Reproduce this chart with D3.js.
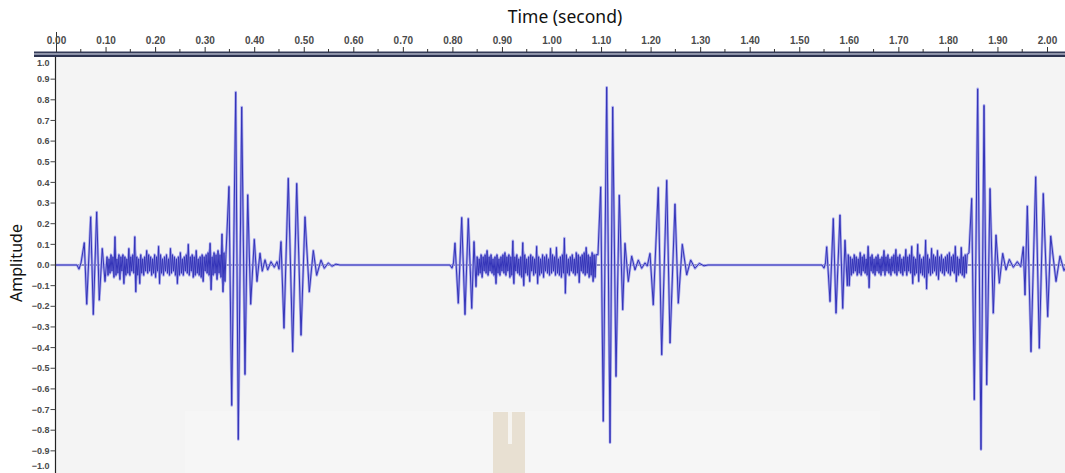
<!DOCTYPE html>
<html>
<head>
<meta charset="utf-8">
<script src="https://cdn.jsdelivr.net/npm/d3@7"></script>
<style>
  html, body { margin: 0; padding: 0; background: #ffffff; }
  svg { display: block; }
</style>
</head>
<body>
<svg id="chart" width="1065" height="473"></svg>
<script>
// ---- Data -------------------------------------------------------------
// Axis ticks
const timeTicks = d3.range(0, 21).map(i => i / 10);          // 0.00 .. 2.00 s
const ampTicks = d3.range(-10, 11).map(i => i / 10);         // -1.0 .. 1.0

// Each heartbeat: onset ripple [time, amplitude], a noisy murmur
// (uniformly sampled), then the two large sound bursts.
const beat1Onset = [
  [0.0424, 0], [0.0464, -0.02], [0.0505, 0.01], [0.0571, 0.108], [0.0620, -0.19],
  [0.0700, 0.233], [0.0753, -0.24], [0.0821, 0.257], [0.0874, -0.17],
  [0.0934, 0.08], [0.0989, -0.08]
];
const murmur1Start = 0.103;
const murmur1 = [
  0.04,-0.05,0.03,-0.04,0.05,-0.03,0.04,-0.06,0.137,-0.05,
  0.03,-0.04,0.05,-0.07,0.04,-0.03,0.05,-0.09,0.04,-0.05,
  0.03,-0.04,0.08,-0.05,0.04,-0.03,0.05,-0.04,0.137,-0.13,
  0.04,-0.05,0.03,-0.09,0.05,-0.04,0.03,-0.05,0.04,-0.03,
  0.07,-0.04,0.05,-0.03,0.04,-0.05,0.03,-0.04,0.05,-0.06,
  0.04,-0.03,0.09,-0.09,0.05,-0.04,0.03,-0.05,0.04,-0.03,
  0.05,-0.04,0.03,-0.05,0.08,-0.04,0.05,-0.03,0.04,-0.05,
  0.03,-0.09,0.04,-0.05,0.06,-0.04,0.03,-0.05,0.04,-0.03,
  0.05,-0.04,0.10,-0.05,0.04,-0.03,0.05,-0.06,0.04,-0.05,
  0.07,-0.04,0.03,-0.05,0.04,-0.06,0.05,-0.08,0.04,-0.03,
  0.05,-0.04,0.06,-0.05,0.105,-0.12,0.04,-0.05,0.06,-0.04,
  0.05,-0.07,0.07,-0.04,0.05,-0.06,0.15,-0.13,0.06,-0.08,
  0.05
];
const beat1Sounds = [
  [0.3491, 0.38], [0.3546, -0.68], [0.3627, 0.837], [0.3679, -0.845], [0.3748, 0.765],
  [0.3814, -0.53], [0.3869, 0.34], [0.3929, -0.19], [0.4002, 0.124], [0.4056, -0.08],
  [0.4117, 0.057], [0.4163, -0.03], [0.4218, 0.025], [0.4272, -0.024], [0.4339, 0.016],
  [0.4406, -0.011], [0.4460, 0.016], [0.4500, -0.02], [0.4541, 0.113], [0.4601, -0.306],
  [0.4688, 0.42], [0.4777, -0.42], [0.4858, 0.395], [0.4945, -0.34], [0.5025, 0.233],
  [0.5112, -0.13], [0.5193, 0.07], [0.5261, -0.05], [0.5348, 0.024], [0.5415, -0.016],
  [0.5495, 0.01], [0.5570, -0.006], [0.5650, 0.004], [0.5730, 0]
];

const beat2Onset = [
  [0.7951, 0], [0.7992, -0.015], [0.8022, 0.01], [0.8052, 0.106], [0.8119, -0.185],
  [0.8188, 0.23], [0.8254, -0.24], [0.8321, 0.225], [0.8390, -0.21],
  [0.8436, 0.113], [0.8476, -0.105]
];
const murmur2Start = 0.850;
const murmur2 = [
  0.04,-0.05,0.03,-0.04,0.05,-0.06,0.04,-0.03,0.05,-0.04,
  0.07,-0.05,0.04,-0.03,0.05,-0.04,0.03,-0.05,0.04,-0.09,
  0.05,-0.04,0.03,-0.05,0.04,-0.03,0.05,-0.04,0.06,-0.05,
  0.04,-0.03,0.05,-0.06,0.04,-0.05,0.117,-0.09,0.04,-0.03,
  0.05,-0.04,0.03,-0.05,0.04,-0.06,0.108,-0.10,0.05,-0.04,
  0.03,-0.05,0.04,-0.08,0.05,-0.03,0.04,-0.05,0.03,-0.04,
  0.09,-0.09,0.04,-0.05,0.03,-0.04,0.05,-0.06,0.04,-0.03,
  0.05,-0.04,0.03,-0.05,0.08,-0.04,0.05,-0.03,0.04,-0.05,
  0.085,-0.04,0.03,-0.05,0.04,-0.06,0.05,-0.04,0.13,-0.137,
  0.05,-0.04,0.03,-0.05,0.04,-0.03,0.05,-0.04,0.03,-0.05,
  0.06,-0.04,0.05,-0.085,0.04,-0.03,0.05,-0.04,0.06,-0.05,
  0.085,-0.04,0.05,-0.06,0.04,-0.05,0.06,-0.08,0.05,-0.06,
  0.05
];
const beat2Sounds = [
  [1.0938, 0.05], [1.0993, 0.378], [1.1045, -0.757], [1.1114, 0.861], [1.1181, -0.861],
  [1.1235, 0.765], [1.1302, -0.54], [1.1368, 0.338], [1.1437, -0.217], [1.1483, 0.105],
  [1.1550, -0.08], [1.1618, 0.043], [1.1685, -0.024], [1.1752, 0.024], [1.1820, -0.016],
  [1.1887, 0.01], [1.1933, -0.005], [1.1988, 0.056], [1.2054, -0.193], [1.2155, 0.375],
  [1.2224, -0.435], [1.2325, 0.41], [1.2392, -0.378], [1.2492, 0.295], [1.2559, -0.185],
  [1.2640, 0.10], [1.2729, -0.048], [1.2809, 0.024], [1.2896, -0.016], [1.2983, 0.008],
  [1.3078, -0.004], [1.3158, 0]
];

const beat3Onset = [
  [1.5459, 0], [1.5500, -0.015], [1.5530, 0.01], [1.5554, 0.088], [1.5621, -0.177],
  [1.5687, 0.225], [1.5742, -0.233], [1.5822, 0.242], [1.5877, -0.21],
  [1.5923, 0.12], [1.5970, -0.1]
];
const murmur3Start = 1.599;
const murmur3 = [
  0.05,-0.10,0.04,-0.05,0.03,-0.04,0.05,-0.03,0.04,-0.05,
  0.03,-0.04,0.06,-0.05,0.04,-0.03,0.05,-0.04,0.03,-0.05,
  0.09,-0.11,0.04,-0.03,0.05,-0.04,0.03,-0.05,0.04,-0.03,
  0.05,-0.04,0.03,-0.05,0.04,-0.03,0.07,-0.05,0.04,-0.03,
  0.05,-0.04,0.03,-0.05,0.04,-0.03,0.05,-0.04,0.075,-0.05,
  0.04,-0.03,0.05,-0.04,0.03,-0.05,0.04,-0.03,0.075,-0.05,
  0.04,-0.03,0.05,-0.04,0.09,-0.09,0.04,-0.05,0.03,-0.04,
  0.10,-0.08,0.05,-0.04,0.03,-0.05,0.04,-0.06,0.12,-0.116,
  0.05,-0.04,0.03,-0.05,0.08,-0.04,0.05,-0.03,0.04,-0.05,
  0.07,-0.07,0.04,-0.03,0.05,-0.04,0.03,-0.05,0.04,-0.03,
  0.05,-0.04,0.06,-0.05,0.04,-0.03,0.05,-0.04,0.09,-0.08,
  0.04,-0.05,0.03,-0.04,0.085,-0.05,0.04,-0.06,0.05,-0.04,
  0.05
];
const beat3Sounds = [
  [1.8426, 0.06], [1.8480, 0.322], [1.8533, -0.652], [1.8601, 0.853], [1.8668, -0.894],
  [1.8729, 0.773], [1.8783, -0.58], [1.8850, 0.37], [1.8916, -0.233], [1.8971, 0.145],
  [1.9038, -0.088], [1.9106, 0.056], [1.9173, -0.024], [1.9240, 0.027], [1.9320, -0.011],
  [1.9401, 0.016], [1.9470, -0.008], [1.9522, 0.088], [1.9556, -0.145], [1.9603, 0.285],
  [1.9677, -0.42], [1.9772, 0.427], [1.9845, -0.403], [1.9925, 0.346], [2.0014, -0.25],
  [2.0075, 0.14], [2.0182, -0.08], [2.0262, 0.043], [2.0343, -0.027], [2.0424, 0.01]
];
const murmurStep = 0.002;   // seconds between murmur samples

// ---- Assemble the waveform ------------------------------------------
const timeMax = 2.0363;
function murmurPoints(start, values) {
  return values.map((v, i) => [start + i * murmurStep, v]);
}
const beats = [
  { onset: beat1Onset, murmur: murmurPoints(murmur1Start, murmur1), sounds: beat1Sounds },
  { onset: beat2Onset, murmur: murmurPoints(murmur2Start, murmur2), sounds: beat2Sounds },
  { onset: beat3Onset, murmur: murmurPoints(murmur3Start, murmur3), sounds: beat3Sounds }
];
const wave = [[0, 0]];
beats.forEach(b => wave.push(...b.onset, ...b.murmur, ...b.sounds));

// ---- Layout ------------------------------------------------------------
const W = 1065, H = 473;
const plot = { left: 56, right: 1065, top: 57, bottom: 473 };

const x = d3.scaleLinear().domain([0, timeMax]).range([56, 56 + 495.5 * timeMax]);
const y = d3.scaleLinear().domain([-1, 1]).range([471.5, 58.5]);

const svg = d3.select("#chart");

// Plot background
svg.append("rect")
  .attr("x", plot.left).attr("y", plot.top)
  .attr("width", plot.right - plot.left).attr("height", plot.bottom - plot.top)
  .attr("fill", "#f4f4f4");
// slightly lighter lower strip
svg.append("rect")
  .attr("x", 185).attr("y", 411).attr("width", 695).attr("height", plot.bottom - 411)
  .attr("fill", "#f6f6f6");

// Beige decorative block near the bottom
const block = svg.append("g");
block.append("rect").attr("x", 493).attr("y", 412).attr("width", 32).attr("height", 61)
  .attr("fill", "#e8e0d2");
block.append("rect").attr("x", 508).attr("y", 412).attr("width", 4).attr("height", 32)
  .attr("fill", "#f6f4f0");

// Clip for the waveform
svg.append("defs").append("clipPath").attr("id", "plotClip")
  .append("rect")
  .attr("x", plot.left).attr("y", plot.top)
  .attr("width", plot.right - plot.left).attr("height", plot.bottom - plot.top);

const waveG = svg.append("g").attr("clip-path", "url(#plotClip)");

// Zero line
waveG.append("line")
  .attr("x1", plot.left).attr("x2", plot.right)
  .attr("y1", y(0)).attr("y2", y(0))
  .attr("stroke", "#2a2a7a").attr("stroke-width", 1);

// Murmur band: polygon through positive peaks, back through negative peaks
const pathLine = d3.line().x(d => x(d[0])).y(d => y(d[1]));
function envelope(points) {
  const upper = points.filter(d => d[1] >= 0);
  const lower = points.filter(d => d[1] <= 0).reverse();
  return pathLine(upper.concat(lower)) + "Z";
}
beats.forEach(b => {
  waveG.append("path").attr("d", envelope(b.murmur))
    .attr("fill", "#6c6cea").attr("fill-opacity", 0.85);
});

// Waveform: pale halo under a thin dark trace
waveG.append("path").datum(wave)
  .attr("d", pathLine)
  .attr("fill", "none")
  .attr("stroke", "#a8a8ec").attr("stroke-width", 2.6)
  .attr("stroke-linejoin", "round");
waveG.append("path").datum(wave)
  .attr("d", pathLine)
  .attr("fill", "none")
  .attr("stroke", "#3434b8").attr("stroke-width", 1)
  .attr("stroke-linejoin", "round");

// ---- Top time ruler --------------------------------------------------
const ruler = svg.append("g");
ruler.append("rect").attr("x", 34).attr("y", 51.5).attr("width", W - 34).attr("height", 2)
  .attr("fill", "#343b58");
ruler.append("rect").attr("x", 34).attr("y", 53.5).attr("width", W - 34).attr("height", 1.5)
  .attr("fill", "#8a90a8");
ruler.append("rect").attr("x", 34).attr("y", 55).attr("width", W - 34).attr("height", 2)
  .attr("fill", "#2c3350");

const topAxis = d3.axisTop(x)
  .tickValues(timeTicks)
  .tickFormat(d3.format(".2f"))
  .tickSize(5)
  .tickPadding(3);
const topG = svg.append("g").attr("transform", "translate(0,52)").call(topAxis);
topG.select(".domain").remove();
topG.selectAll(".tick line").attr("stroke", "#333").attr("stroke-width", 1);
topG.selectAll(".tick text")
  .attr("font-family", "Liberation Sans, Arial, sans-serif")
  .attr("font-weight", "bold")
  .attr("font-size", 10)
  .attr("fill", "#4a4a4a");
// the origin tick runs up through its label
topG.selectAll(".tick").filter(d => d === 0).select("line").attr("y2", -20);

// minor ticks halfway between labels
const minorTimes = timeTicks.map(t => t + 0.05).filter(t => t < timeMax);
svg.append("g").selectAll("line").data(minorTimes).join("line")
  .attr("x1", d => x(d)).attr("x2", d => x(d))
  .attr("y1", 49).attr("y2", 52)
  .attr("stroke", "#333").attr("stroke-width", 1);

// ---- Left amplitude axis -----------------------------------------------
svg.append("line")
  .attr("x1", 55.5).attr("x2", 55.5).attr("y1", plot.top).attr("y2", plot.bottom)
  .attr("stroke", "#222").attr("stroke-width", 1.2);

const leftG = svg.append("g");
const innerAmp = ampTicks.filter(v => Math.abs(v) < 0.99);
leftG.selectAll("line").data(innerAmp).join("line")
  .attr("x1", 50.5).attr("x2", 55.5)
  .attr("y1", d => y(d)).attr("y2", d => y(d))
  .attr("stroke", "#444").attr("stroke-width", 1);
leftG.selectAll("text").data(ampTicks).join("text")
  .attr("x", 49.5)
  .attr("y", d => d > 0.99 ? y(d) + 4 : d < -0.99 ? y(d) - 6 : y(d))
  .attr("dy", "0.35em")
  .attr("text-anchor", "end")
  .attr("font-family", "Liberation Sans, Arial, sans-serif")
  .attr("font-weight", "bold")
  .attr("font-size", 9)
  .attr("fill", "#4a4a4a")
  .text(d => d3.format(".1f")(d));

// ---- Axis titles -------------------------------------------------------
svg.append("text")
  .attr("x", 565).attr("y", 22.5)
  .attr("text-anchor", "middle")
  .attr("font-family", "Noto Sans, Open Sans, sans-serif")
  .attr("font-size", 17.5)
  .attr("fill", "#111")
  .text("Time (second)");

svg.append("text")
  .attr("transform", "translate(22,263) rotate(-90)")
  .attr("text-anchor", "middle")
  .attr("font-family", "Noto Sans, Open Sans, sans-serif")
  .attr("font-size", 16)
  .attr("fill", "#111")
  .text("Amplitude");
</script>
</body>
</html>
